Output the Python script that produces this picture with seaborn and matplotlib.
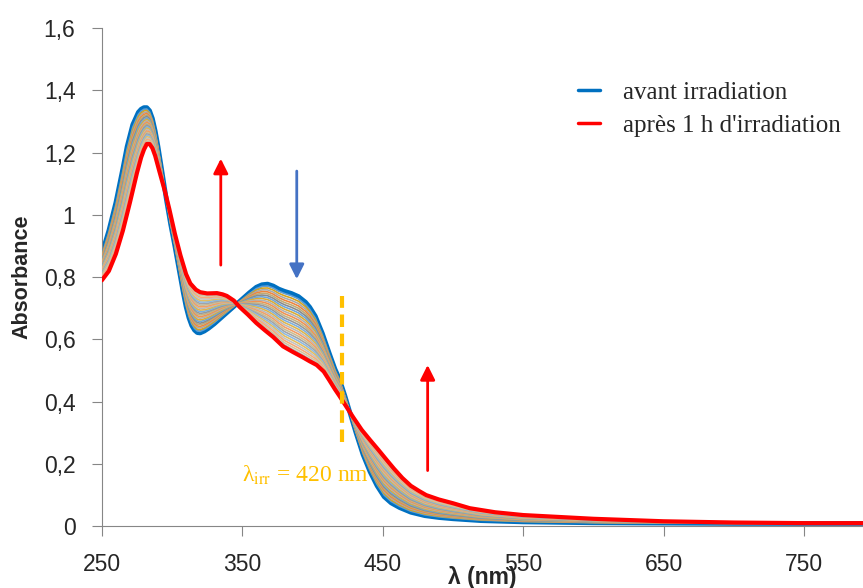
import numpy as np
import pandas as pd
import seaborn as sns
import matplotlib.pyplot as plt
from matplotlib.colors import to_rgb

# spectre avant irradiation (bleu)
wl_blue = [250, 255, 260, 265, 268, 272, 276, 278, 280, 282, 284, 286, 288, 290, 293, 296,
           299, 302, 306, 308, 310, 312, 314, 316, 318, 320, 323, 326, 330, 335, 340, 345,
           350, 355, 360, 364, 368, 372, 376, 380, 385, 390, 395, 398, 402, 407, 412, 416,
           419, 423, 427, 431, 436, 441, 446, 451, 456, 462, 470, 480, 490, 500, 520, 550,
           600, 650, 700, 750, 800]
abs_blue = [0.875, 0.95, 1.04, 1.15, 1.22, 1.29, 1.33, 1.34, 1.345, 1.345, 1.335, 1.31,
            1.27, 1.22, 1.135, 1.048, 0.97, 0.9, 0.8, 0.75, 0.705, 0.67, 0.645, 0.63, 0.622,
            0.621, 0.627, 0.636, 0.65, 0.67, 0.69, 0.71, 0.73, 0.75, 0.768, 0.776, 0.778,
            0.772, 0.762, 0.755, 0.748, 0.738, 0.72, 0.704, 0.675, 0.62, 0.555, 0.505, 0.475,
            0.42, 0.36, 0.3, 0.23, 0.175, 0.13, 0.095, 0.075, 0.06, 0.045, 0.034, 0.028,
            0.024, 0.018, 0.014, 0.011, 0.01, 0.009, 0.009, 0.009]

# spectre après 1 h d'irradiation (rouge)
wl_red = [250, 255, 260, 265, 270, 275, 278, 280, 282, 284, 286, 288, 291, 295, 298, 302,
          306, 310, 313, 317, 320, 325, 332, 336, 339, 344, 348, 354, 360, 366, 372, 379,
          386, 393, 398, 403, 408, 412, 416, 419, 424, 429, 435, 441, 447, 453, 458, 464,
          470, 476, 481, 490, 500, 512, 530, 550, 600, 650, 700, 750, 800]
abs_red = [0.79, 0.82, 0.875, 0.95, 1.04, 1.135, 1.185, 1.21, 1.228, 1.228, 1.215, 1.19,
           1.14, 1.075, 1.02, 0.94, 0.87, 0.81, 0.78, 0.76, 0.752, 0.748, 0.749, 0.745, 0.74,
           0.725, 0.705, 0.68, 0.653, 0.63, 0.608, 0.578, 0.56, 0.543, 0.53, 0.518, 0.497,
           0.469, 0.44, 0.42, 0.385, 0.35, 0.31, 0.277, 0.245, 0.212, 0.185, 0.155, 0.13,
           0.113, 0.1, 0.086, 0.074, 0.058, 0.045, 0.036, 0.024, 0.016, 0.012, 0.01, 0.01]

# avancement des spectres intermédiaires
progress = [0.04, 0.08, 0.12, 0.16, 0.2, 0.24, 0.28, 0.32, 0.36, 0.4, 0.44, 0.48, 0.52,
            0.56, 0.6, 0.64, 0.68, 0.72, 0.76, 0.8, 0.84, 0.88, 0.92, 0.96]

stripe_colors = ['#5B9BD5', '#D4A017', '#A5A5A5', '#ED7D31', '#B8A46A', '#7F7F7F']

wl = np.array(wl_blue, dtype=float)
blue_on = np.array(abs_blue)
red_on = np.interp(wl, wl_red, abs_red)

rows = []
for i, p in enumerate(progress):
    vals = blue_on + p * (red_on - blue_on)
    for w, v in zip(wl, vals):
        rows.append({'wl': w, 'abs': v, 'step': i})
mid = pd.DataFrame(rows)

pal = []
for i, p in enumerate(progress):
    c = np.array(to_rgb(stripe_colors[i % len(stripe_colors)]))
    pal.append(tuple(c + (1 - c) * 0.4 * p))

sns.set_style('white')
plt.rcParams['font.family'] = ['Liberation Sans', 'DejaVu Sans']
plt.rcParams['mathtext.fontset'] = 'stix'

fig = plt.figure(figsize=(8.63, 5.88), dpi=100)
ax = fig.add_axes([0.118, 0.105, 0.882, 0.847])

sns.lineplot(x=wl_blue, y=abs_blue, ax=ax, color='#0070C0', lw=3.4,
             label='avant irradiation', zorder=2)
sns.lineplot(data=mid, x='wl', y='abs', hue='step', palette=pal, lw=1.2,
             legend=False, ax=ax, zorder=3)
sns.lineplot(x=wl_red, y=abs_red, ax=ax, color='#FF0000', lw=3.0,
             label="après 1 h d'irradiation", zorder=4)

# flèches et longueur d'onde d'irradiation
ax.annotate('', xy=(334.7, 1.19), xytext=(334.7, 0.83),
            arrowprops=dict(arrowstyle='-|>', color='#FF0000', lw=2, mutation_scale=22))
ax.annotate('', xy=(388.8, 0.785), xytext=(388.8, 1.15),
            arrowprops=dict(arrowstyle='-|>', color='#4472C4', lw=2, mutation_scale=22))
ax.annotate('', xy=(482, 0.527), xytext=(482, 0.17),
            arrowprops=dict(arrowstyle='-|>', color='#FF0000', lw=2, mutation_scale=22))
ax.plot([421, 421], [0.27, 0.74], color='#FFC000', lw=3, ls=(0, (3, 1.6)), zorder=5)
ax.text(349.6, 0.142, r'λ$_{\mathrm{irr}}$ = 420 nm', color='#FFC000',
        fontsize=17, family='Liberation Serif', ha='left', va='baseline')

yt = [0, 0.2, 0.4, 0.6, 0.8, 1.0, 1.2, 1.4, 1.6]
ax.set_xlim(250, 792)
ax.set_ylim(0, 1.6)
ax.set_xticks([250, 350, 450, 550, 650, 750])
ax.set_yticks(yt)
ax.set_yticklabels([f'{v:g}'.replace('.', ',') for v in yt])
ax.tick_params(axis='both', labelsize=16.5, length=7, color='#868686', direction='out',
               left=True, bottom=True)
ax.tick_params(axis='x', pad=12)
ax.tick_params(axis='y', pad=12)
for s in ['top', 'right']:
    ax.spines[s].set_visible(False)
for s in ['left', 'bottom']:
    ax.spines[s].set_color('#868686')
ax.set_xlabel('λ (nm)', fontsize=16.5, fontweight='bold', labelpad=-7)
ax.set_ylabel('Absorbance', fontsize=15.5, fontweight='bold', labelpad=8)

leg = ax.legend(loc='upper left', bbox_to_anchor=(0.6255, 0.893), frameon=False,
                borderaxespad=0, borderpad=0,
                prop={'family': 'Liberation Serif', 'size': 18}, handlelength=0.9,
                handletextpad=0.9, labelspacing=0.4)
for h in leg.get_lines():
    h.set_linewidth(2.5)

fig.savefig('out.png', dpi=100)
